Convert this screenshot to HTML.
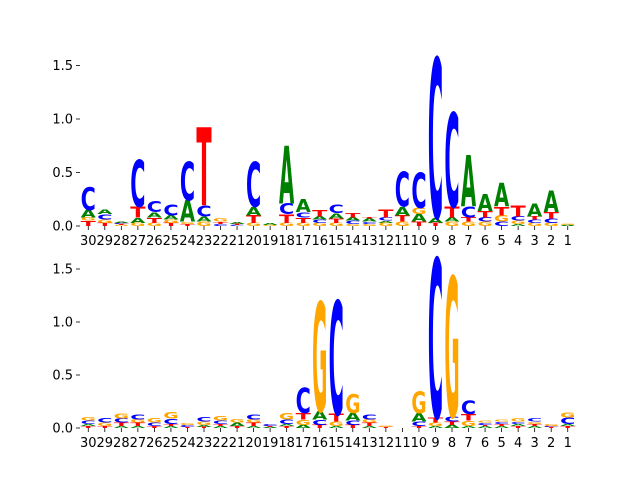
<!DOCTYPE html>
<html><head><meta charset="utf-8"><style>
body{margin:0;background:#fff;}
svg{display:block;font-family:"DejaVu Sans","Liberation Sans",sans-serif;}
</style></head><body>
<svg id="chart" width="640" height="480"></svg>
<script>
const positions = ["30","29","28","27","26","25","24","23","22","21","20","19","18","17","16","15","14","13","12","11","10","9","8","7","6","5","4","3","2","1"];
const topStacks = [
[["T",.05],["G",.03],["A",.07],["C",.21]],
[["T",.03],["G",.03],["C",.05],["A",.04]],
[["G",.01],["T",.01],["C",.01],["A",.01]],
[["G",.03],["A",.05],["T",.1],["C",.44]],
[["G",.03],["T",.05],["A",.05],["C",.1]],
[["T",.03],["G",.03],["A",.04],["C",.1]],
[["T",.02],["G",.02],["A",.2],["C",.36]],
[["G",.04],["A",.05],["C",.1],["T",.73]],
[["C",.02],["T",.02],["G",.03]],
[["C",.01],["T",.01],["A",.02]],
[["G",.03],["T",.07],["A",.08],["C",.42]],
[["G",.01],["A",.02]],
[["G",.03],["T",.08],["C",.1],["A",.54]],
[["G",.03],["T",.05],["C",.05],["A",.12]],
[["G",.03],["C",.03],["A",.03],["T",.06]],
[["G",.03],["T",.04],["A",.05],["C",.08]],
[["G",.02],["C",.03],["A",.03],["T",.04]],
[["G",.02],["C",.02],["A",.03],["T",.01]],
[["G",.03],["A",.02],["C",.03],["T",.07]],
[["G",.04],["T",.06],["A",.08],["C",.32]],
[["T",.04],["A",.07],["G",.06],["C",.33]],
[["T",.03],["A",.05],["C",1.49]],
[["G",.04],["A",.04],["T",.1],["C",.88]],
[["G",.04],["T",.04],["C",.1],["A",.48]],
[["G",.04],["C",.04],["T",.06],["A",.16]],
[["C",.04],["G",.06],["T",.08],["A",.22]],
[["A",.02],["G",.03],["C",.04],["T",.1]],
[["G",.03],["C",.03],["T",.03],["A",.12]],
[["G",.03],["C",.04],["T",.06],["A",.2]],
[["A",.01],["G",.01]]
];
const bottomStacks = [
[["T",.02],["A",.02],["C",.03],["G",.03]],
[["T",.02],["G",.03],["C",.04]],
[["A",.02],["T",.03],["C",.04],["G",.05]],
[["A",.02],["T",.03],["G",.03],["C",.05]],
[["T",.02],["C",.03],["G",.04]],
[["A",.02],["T",.02],["C",.05],["G",.06]],
[["T",.01],["C",.02],["G",.02]],
[["T",.01],["A",.02],["G",.03],["C",.04]],
[["A",.02],["T",.02],["C",.03],["G",.04]],
[["T",.02],["A",.03],["G",.03]],
[["A",.02],["T",.03],["G",.03],["C",.05]],
[["A",.01],["T",.01],["C",.02]],
[["T",.02],["A",.02],["C",.04],["G",.06]],
[["A",.03],["G",.05],["T",.06],["C",.24]],
[["T",.03],["C",.05],["A",.08],["G",1.03]],
[["A",.02],["G",.04],["T",.07],["C",1.07]],
[["T",.03],["C",.04],["A",.07],["G",.18]],
[["A",.02],["T",.03],["G",.03],["C",.05]],
[["T",.01],["G",.01]],
[],
[["T",.02],["C",.04],["A",.08],["G",.2]],
[["A",.02],["G",.03],["T",.05],["C",1.5]],
[["A",.03],["T",.03],["C",.05],["G",1.32]],
[["A",.02],["G",.05],["T",.06],["C",.13]],
[["A",.02],["T",.01],["C",.02],["G",.02]],
[["A",.02],["T",.02],["C",.02],["G",.02]],
[["T",.02],["A",.02],["C",.02],["G",.03]],
[["A",.02],["T",.02],["G",.02],["C",.03]],
[["T",.01],["C",.01],["G",.02]],
[["T",.02],["A",.02],["C",.06],["G",.05]]
];
const yTicks = [0, 0.5, 1.0, 1.5];
const yTickLabels = ["0.0","0.5","1.0","1.5"];

const NS = "http://www.w3.org/2000/svg";
const svg = document.getElementById("chart");
const colors = {A:"#008000", C:"#0000ff", G:"#ffa500", T:"#ff0000"};
const X0 = 80, X1 = 576;
const step = (X1 - X0) / positions.length;
function xScale(i){ return X0 + step * (i + 0.5); }

function drawPanel(stacks, y0, pxPerUnit, name){
  const g = document.createElementNS(NS, "g");
  
  
  svg.appendChild(g);
  const yScale = v => y0 - v * pxPerUnit;
  yTicks.forEach((t, k) => {
    const y = yScale(t);
    const ln = document.createElementNS(NS, "line");
    
    
    ln.setAttribute("x1", X0 - 4); ln.setAttribute("x2", X0);
    ln.setAttribute("y1", y); ln.setAttribute("y2", y);
    ln.setAttribute("stroke", "#000"); ln.setAttribute("stroke-width", "0.8");
    g.appendChild(ln);
    const tx = document.createElementNS(NS, "text");
    
    
    tx.setAttribute("x", X0 - 7); tx.setAttribute("y", y + 4.5);
    tx.setAttribute("text-anchor", "end"); tx.setAttribute("font-size", "13");
    tx.textContent = yTickLabels[k];
    g.appendChild(tx);
  });
  positions.forEach((p, i) => {
    const x = xScale(i);
    const ln = document.createElementNS(NS, "line");
    
    
    ln.setAttribute("x1", x); ln.setAttribute("x2", x);
    ln.setAttribute("y1", y0); ln.setAttribute("y2", y0 + 4);
    ln.setAttribute("stroke", "#000"); ln.setAttribute("stroke-width", "0.8");
    g.appendChild(ln);
    const tx = document.createElementNS(NS, "text");
    
    
    tx.setAttribute("x", x); tx.setAttribute("y", y0 + 19);
    tx.setAttribute("text-anchor", "middle"); tx.setAttribute("font-size", "13");
    tx.textContent = p;
    g.appendChild(tx);
    let cum = 0;
    const w = step * 0.92;
    (stacks[i] || []).forEach(([letter, h]) => {
      const bottom = yScale(cum);
      cum += h;
      const hp = h * pxPerUnit;
      if (hp <= 0) return;
      const t = document.createElementNS(NS, "text");
      
      
      t.setAttribute("font-size", "100");
      t.setAttribute("font-weight", "bold");
      t.setAttribute("textLength", "70");
      t.setAttribute("lengthAdjust", "spacingAndGlyphs");
      t.setAttribute("fill", colors[letter]);
      t.setAttribute("x", "0"); t.setAttribute("y", "0");
      t.setAttribute("transform", `translate(${x - w/2},${bottom}) scale(${w/70},${hp/73})`);
      t.textContent = letter;
      g.appendChild(t);
    });
  });
}
drawPanel(topStacks, 226, 107, "top-logo-panel");
drawPanel(bottomStacks, 428, 106, "bottom-logo-panel");
</script>
</body></html>
